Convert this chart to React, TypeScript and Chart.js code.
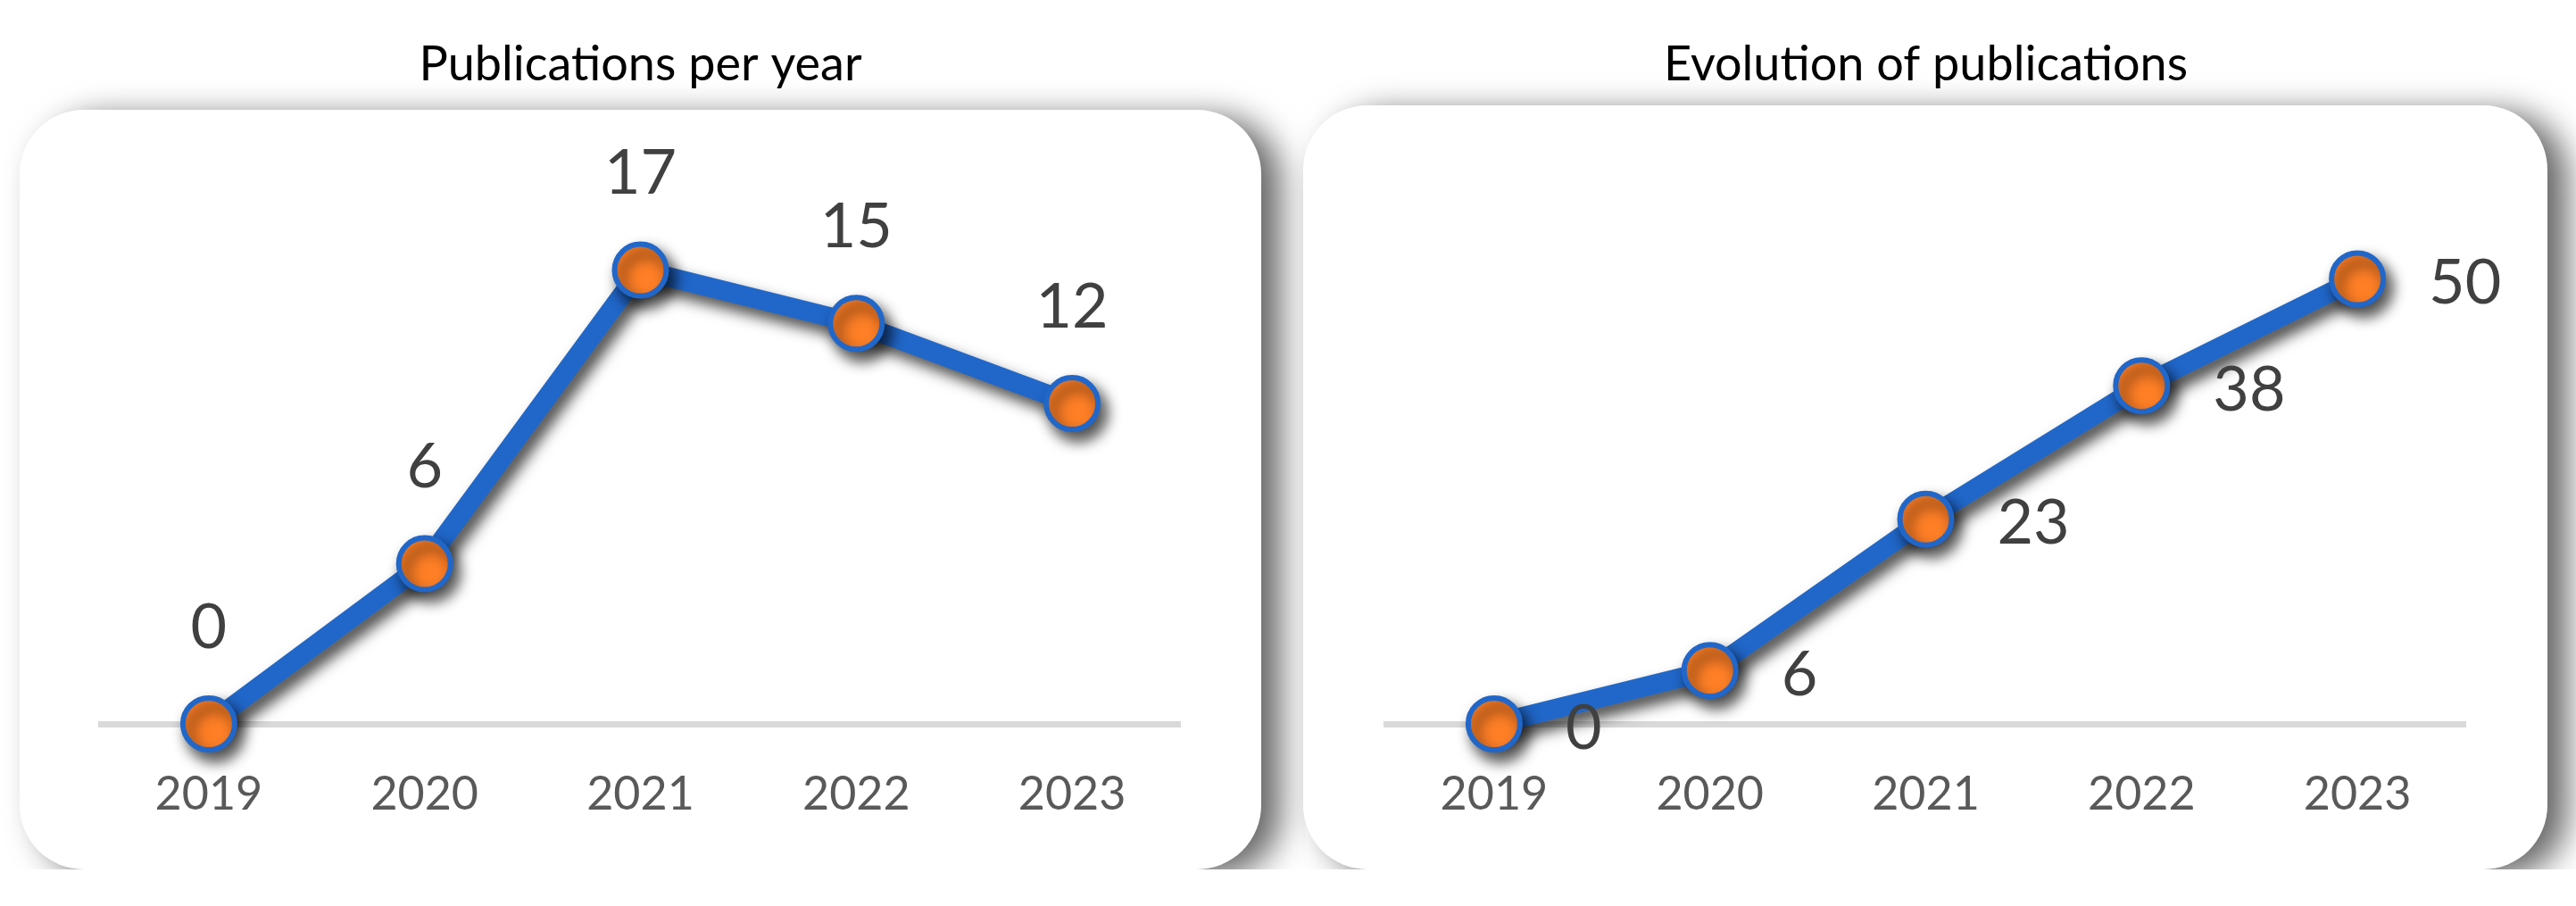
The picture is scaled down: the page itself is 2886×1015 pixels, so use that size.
import React, { useEffect, useRef } from "react";
import { Chart, registerables } from "chart.js";

Chart.register(...registerables);

const years = ["2019", "2020", "2021", "2022", "2023"];
const perYear = [0, 6, 17, 15, 12];
const cumulative = [0, 6, 23, 38, 50];
const titleLeft = "Publications per year";
const titleRight = "Evolution of publications";

const BLUE = "#2167C9";
const ORANGE = "#FE7F26";
const FONT = "Lato, 'Open Sans', sans-serif";

type Cfg = {
  title: string;
  data: number[];
  yMax: number;
  labelPos: "top" | "right";
  card: { x: number; y: number; w: number; h: number };
  padLeft: number;
  padRight: number;
  width: number;
};

const cardPlugin = {
  id: "card",
  beforeDraw(chart: any, _args: any, opts: any) {
    const c = opts.rect;
    if (!c) return;
    const ctx = chart.ctx;
    ctx.save();
    ctx.beginPath();
    ctx.rect(0, 0, chart.width, c.y + c.h);
    ctx.clip();
    ctx.shadowColor = "rgba(0,0,0,0.6)";
    ctx.shadowBlur = 36;
    ctx.shadowOffsetX = 22;
    ctx.shadowOffsetY = 8;
    ctx.fillStyle = "#ffffff";
    ctx.beginPath();
    ctx.roundRect(c.x, c.y, c.w, c.h, 72);
    ctx.fill();
    ctx.restore();
  },
};

const shadowPlugin = {
  id: "lineShadow",
  beforeDatasetsDraw(chart: any) {
    const ctx = chart.ctx;
    ctx.save();
    ctx.shadowColor = "rgba(0,0,0,0.7)";
    ctx.shadowBlur = 16;
    ctx.shadowOffsetX = 7;
    ctx.shadowOffsetY = 10;
  },
  afterDatasetsDraw(chart: any) {
    chart.ctx.restore();
  },
};

const labelPlugin = {
  id: "valueLabels",
  afterDraw(chart: any, _args: any, opts: any) {
    const ctx = chart.ctx;
    const meta = chart.getDatasetMeta(0);
    const values = chart.data.datasets[0].data;
    ctx.save();
    ctx.font = `70px ${FONT}`;
    ctx.fillStyle = "#404040";
    ctx.textBaseline = "middle";
    meta.data.forEach((pt: any, i: number) => {
      const txt = String(values[i]);
      if (opts.pos === "top") {
        ctx.textAlign = "center";
        ctx.fillText(txt, pt.x, pt.y - 108);
      } else {
        ctx.textAlign = "left";
        ctx.fillText(txt, pt.x + 80, pt.y + 5);
      }
    });
    ctx.restore();
  },
};

function LineChart({ cfg, style }: { cfg: Cfg; style?: React.CSSProperties }) {
  const ref = useRef<HTMLCanvasElement | null>(null);
  useEffect(() => {
    if (!ref.current) return;
    const chart = new Chart(ref.current, {
      type: "line",
      data: {
        labels: years,
        datasets: [
          {
            data: cfg.data,
            borderColor: BLUE,
            borderWidth: 22,
            backgroundColor: ORANGE,
            pointBackgroundColor: ORANGE,
            pointBorderColor: BLUE,
            pointBorderWidth: 6,
            pointRadius: 29,
            pointHoverRadius: 29,
            tension: 0,
            clip: false as any,
            borderJoinStyle: "round",
          },
        ],
      },
      options: {
        animation: false,
        responsive: false,
        devicePixelRatio: 1,
        events: [],
        layout: { padding: { left: cfg.padLeft, right: cfg.padRight, top: 0, bottom: 0 } },
        plugins: {
          legend: { display: false },
          tooltip: { enabled: false },
          title: {
            display: true,
            text: cfg.title,
            color: "#000000",
            font: { family: FONT, size: 54, weight: "normal", lineHeight: 1.2 },
            padding: { top: 40, bottom: 108 },
          },
          card: { rect: cfg.card },
          valueLabels: { pos: cfg.labelPos },
        } as any,
        scales: {
          x: {
            type: "category",
            offset: true,
            grid: { display: false, drawTicks: false },
            border: { display: true, color: "#D9D9D9", width: 7 },
            ticks: {
              color: "#595959",
              font: { family: FONT, size: 52 },
              padding: 48,
              maxRotation: 0,
              autoSkip: false,
            },
            afterFit(scale: any) {
              scale.height = 204;
            },
          },
          y: {
            display: false,
            min: 0,
            max: cfg.yMax,
          },
        },
      },
      plugins: [cardPlugin, shadowPlugin, labelPlugin],
    });
    return () => chart.destroy();
  }, [cfg]);
  return (
    <canvas
      ref={ref}
      width={cfg.width}
      height={1015}
      style={{ display: "block", width: cfg.width, height: 1015, flex: "none", ...style }}
    />
  );
}

const leftCfg: Cfg = {
  title: titleLeft,
  data: perYear,
  yMax: 20,
  labelPos: "top",
  card: { x: 22, y: 123, w: 1391, h: 851 },
  padLeft: 113,
  padRight: 141,
  width: 1463,
};

const rightCfg: Cfg = {
  title: titleRight,
  data: cumulative,
  yMax: 60,
  labelPos: "right",
  card: { x: 17, y: 118, w: 1394, h: 856 },
  padLeft: 110,
  padRight: 124,
  width: 1443,
};

export default function App() {
  useEffect(() => {
    document.body.style.margin = "0";
    document.body.style.background = "#ffffff";
  }, []);
  return (
    <div style={{ display: "flex", width: 2886, height: 1015, background: "#ffffff", position: "relative" }}>
      <LineChart cfg={leftCfg} />
      <LineChart cfg={rightCfg} style={{ marginLeft: -20, position: "relative" }} />
    </div>
  );
}
